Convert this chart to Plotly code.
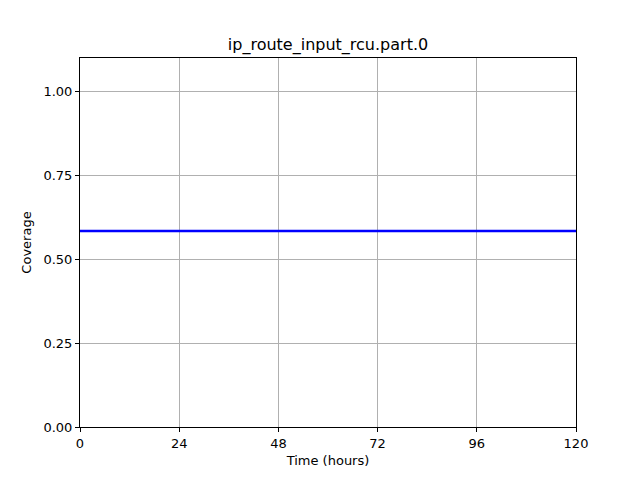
import plotly.graph_objects as go

hours = [0, 120]
coverage = [0.584, 0.584]
x_ticks = [0, 24, 48, 72, 96, 120]
y_ticks = [0.0, 0.25, 0.5, 0.75, 1.0]

fig = go.Figure(go.Scatter(x=hours, y=coverage, mode="lines",
                           line=dict(color="blue", width=2.5)))

axis_common = dict(showgrid=True, gridcolor="#b0b0b0", gridwidth=1,
                   showline=True, linecolor="black", mirror=True,
                   ticks="outside", ticklen=4, tickcolor="black",
                   zeroline=False, tickfont=dict(size=13, color="black"))

# the page renders with an 8px body offset, so margins are shifted to compensate
fig.update_layout(
    width=640, height=480,
    paper_bgcolor="white", plot_bgcolor="white",
    margin=dict(l=72, r=72, t=50, b=61),
    font=dict(family="DejaVu Sans", color="black"),
    title=dict(text="ip_route_input_rcu.part.0", x=0.5, xanchor="center",
               y=1 - 36 / 480, yanchor="middle", font=dict(size=16)),
    showlegend=False,
    xaxis=dict(range=[0, 120], tickvals=x_ticks,
               title=dict(text="Time (hours)", font=dict(size=13), standoff=6),
               **axis_common),
    yaxis=dict(range=[0, 1.1], tickvals=y_ticks, tickformat=".2f",
               title=dict(text="Coverage", font=dict(size=13), standoff=8),
               **axis_common),
)

fig.write_html("out.html")
